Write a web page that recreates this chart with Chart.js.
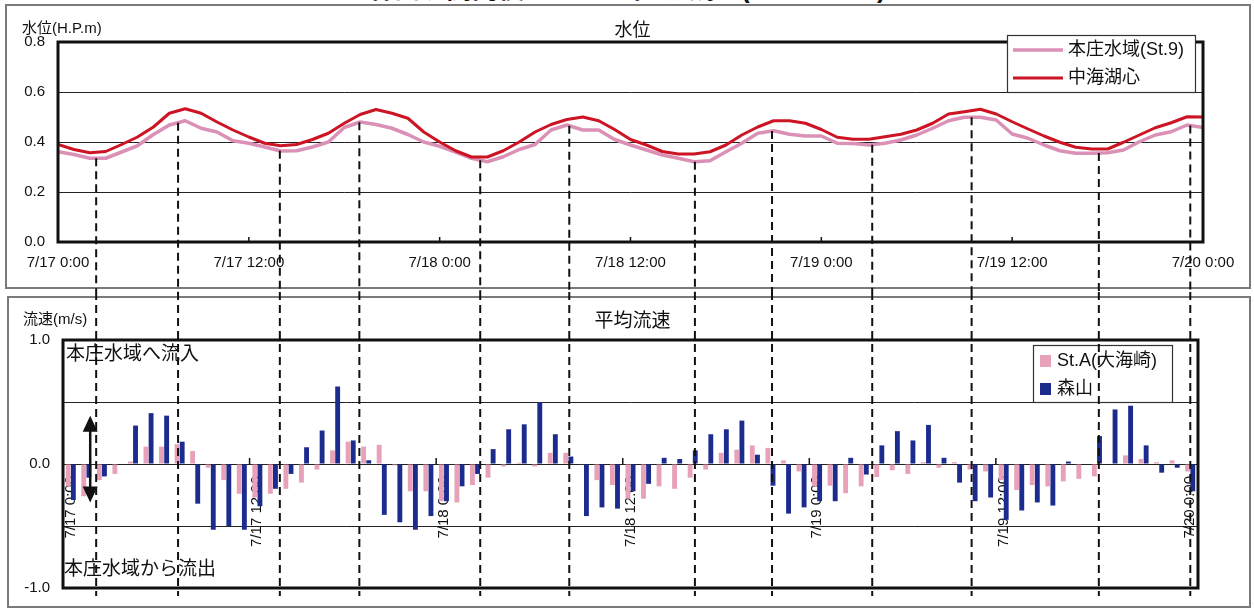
<!DOCTYPE html>
<html lang="ja">
<head>
<meta charset="utf-8">
<title>水位・平均流速</title>
<script src="https://cdn.jsdelivr.net/npm/chart.js@4.4.1/dist/chart.umd.min.js"></script>
<style>
  html, body { margin: 0; padding: 0; background: #fff; }
  body { width: 1254px; height: 610px; position: relative; overflow: hidden; }
  #doc-title { position: absolute; left: 0; top: -26px; width: 1254px; text-align: center;
    font: bold 26px/30px 'Liberation Sans', 'Noto Sans CJK JP', sans-serif; color: #111; white-space: nowrap; }
  .frame { position: absolute; border: 2px solid #7a7a7a; box-sizing: border-box; }
  .wrap { position: absolute; left: 0; width: 1254px; }
</style>
</head>
<body>
<div id="doc-title">森山堤開削後 ― 2010年7月調査(7/17～7/20)</div>
<div class="frame" style="left:5px;top:4px;width:1246px;height:285px;"></div>
<div class="frame" style="left:7px;top:296px;width:1244px;height:312px;"></div>
<div class="wrap" style="top:0;height:292px;"><canvas id="levelChart"></canvas></div>
<div class="wrap" style="top:292px;height:318px;"><canvas id="flowChart"></canvas></div>
<script>
// Time axis labels (every 12 hours)
const tickLabels = ['7/17 0:00', '7/17 12:00', '7/18 0:00', '7/18 12:00', '7/19 0:00', '7/19 12:00', '7/20 0:00'];

// Hourly water level (H.P. m), 7/17 0:00 – 7/20 0:00
const levelHonjo = [
  0.361, 0.350, 0.335, 0.335, 0.360, 0.385, 0.430, 0.468, 0.485, 0.455,
  0.440, 0.405, 0.395, 0.380, 0.364, 0.365, 0.380, 0.400, 0.458, 0.480,
  0.470, 0.455, 0.430, 0.400, 0.383, 0.360, 0.335, 0.321, 0.341, 0.370,
  0.390, 0.448, 0.468, 0.448, 0.448, 0.410, 0.388, 0.368, 0.348, 0.335,
  0.321, 0.325, 0.361, 0.395, 0.435, 0.445, 0.431, 0.424, 0.424, 0.395,
  0.394, 0.388, 0.395, 0.408, 0.428, 0.455, 0.485, 0.499, 0.499, 0.488,
  0.432, 0.415, 0.388, 0.365, 0.355, 0.355, 0.357, 0.368, 0.401, 0.428,
  0.441, 0.468, 0.458
];
const levelNakaumi = [
  0.390, 0.370, 0.357, 0.362, 0.390, 0.420, 0.460, 0.515, 0.533, 0.515,
  0.480, 0.448, 0.420, 0.395, 0.385, 0.390, 0.410, 0.435, 0.475, 0.510,
  0.530, 0.515, 0.495, 0.440, 0.400, 0.365, 0.340, 0.340, 0.365, 0.400,
  0.440, 0.470, 0.490, 0.500, 0.485, 0.450, 0.410, 0.388, 0.362, 0.352,
  0.352, 0.361, 0.388, 0.428, 0.460, 0.485, 0.485, 0.475, 0.450, 0.419,
  0.411, 0.411, 0.421, 0.431, 0.448, 0.475, 0.512, 0.521, 0.531, 0.512,
  0.481, 0.452, 0.424, 0.399, 0.379, 0.372, 0.372, 0.399, 0.428, 0.457,
  0.477, 0.501, 0.500
];

// Hourly mean flow velocity (m/s); positive = inflow to Honjo area
const flowStA = [
  -0.18, -0.26, -0.13, -0.08, 0.02, 0.14, 0.14, 0.16, 0.105, -0.03,
  -0.13, -0.24, -0.27, -0.24, -0.20, -0.15, -0.045, 0.11, 0.18, 0.14,
  0.155, -0.01, -0.22, -0.22, -0.30, -0.31, -0.17, -0.11, -0.02, 0.01,
  -0.02, 0.09, 0.09, -0.005, -0.13, -0.17, -0.28, -0.28, -0.18, -0.20,
  -0.11, -0.045, 0.09, 0.115, 0.15, 0.13, 0.03, -0.06, -0.18, -0.175,
  -0.235, -0.18, -0.105, -0.05, -0.08, 0.015, -0.03, 0.015, -0.045, -0.06,
  -0.13, -0.21, -0.17, -0.18, -0.14, -0.12, -0.10, 0.0, 0.07, 0.04,
  0.015, 0.03, -0.06
];
const flowMoriyama = [
  -0.29, -0.11, -0.10, 0.0, 0.31, 0.41, 0.39, 0.18, -0.32, -0.53,
  -0.50, -0.53, -0.34, -0.20, -0.08, 0.135, 0.27, 0.625, 0.19, 0.03,
  -0.41, -0.47, -0.53, -0.42, -0.30, -0.18, -0.08, 0.12, 0.28, 0.32,
  0.50, 0.24, 0.06, -0.42, -0.35, -0.36, -0.22, -0.16, 0.05, 0.04,
  0.11, 0.24, 0.28, 0.35, 0.075, -0.175, -0.40, -0.35, -0.30, -0.30,
  0.05, -0.085, 0.15, 0.265, 0.19, 0.315, 0.05, -0.15, -0.30, -0.27,
  -0.45, -0.375, -0.31, -0.335, 0.02, 0.0, 0.225, 0.44, 0.47, 0.15,
  -0.07, -0.03, -0.22
];

// Turning points of the tide (hours from 7/17 0:00), marked by dashed guides
const dashHours = [2.4, 7.55, 13.95, 18.95, 26.55, 32.15, 40.05, 44.9, 51.2, 57.45, 65.45, 71.2];

// Hourly category labels
const hourLabels = [];
for (const day of [17, 18, 19, 20]) {
  for (let h = 0; h < 24 && hourLabels.length < levelHonjo.length; h++) hourLabels.push(`7/${day} ${h}:00`);
}

const FONT = "'Liberation Sans', 'Noto Sans CJK JP', sans-serif";
const INK = '#111';
const PINK_LINE = '#DB90B6';
const RED_LINE = '#CC1424';
const PINK_BAR = '#E7A2BA';
const BLUE_BAR = '#1C2B8E';

function valueAt(arr, h) {
  const i = Math.floor(h), f = h - i;
  const a = arr[i], b = arr[Math.min(i + 1, arr.length - 1)];
  return a + (b - a) * f;
}

function dashedGuide(ctx, x, y0, y1) {
  ctx.save();
  ctx.strokeStyle = INK;
  ctx.lineWidth = 2;
  ctx.setLineDash([8, 5]);
  ctx.beginPath();
  ctx.moveTo(x, y0);
  ctx.lineTo(x, y1);
  ctx.stroke();
  ctx.restore();
}

function legendBox(ctx, x, y, w, h) {
  ctx.save();
  ctx.fillStyle = '#fff';
  ctx.fillRect(x, y, w, h);
  ctx.strokeStyle = '#333';
  ctx.lineWidth = 1.2;
  ctx.strokeRect(x + 0.5, y + 0.5, w, h);
  ctx.restore();
}

// Thick frame round the plotting area
const plotFrame = {
  id: 'plotFrame',
  afterDatasetsDraw(chart) {
    const { ctx, chartArea: a } = chart;
    ctx.save();
    ctx.strokeStyle = INK;
    ctx.lineWidth = 3;
    ctx.strokeRect(a.left, a.top, a.right - a.left, a.bottom - a.top);
    ctx.restore();
  }
};

// Titles, legend, tick marks and tide guides of the water-level panel
const levelDecor = {
  id: 'levelDecor',
  afterDraw(chart) {
    const { ctx, chartArea: a, scales: { x, y } } = chart;
    ctx.save();
    ctx.fillStyle = INK;
    ctx.textBaseline = 'middle';
    ctx.textAlign = 'center';
    ctx.font = `18px ${FONT}`;
    ctx.fillText('水位', (a.left + a.right) / 2 + 2, 31);
    ctx.textAlign = 'left';
    ctx.font = `15px ${FONT}`;
    ctx.fillText('水位(H.P.m)', 22, 29);

    // inner tick marks on the time axis
    ctx.strokeStyle = INK;
    ctx.lineWidth = 1.5;
    x.ticks.forEach(t => {
      const px = x.getPixelForValue(t.value);
      if (px <= a.left + 2 || px >= a.right - 2) return;
      ctx.beginPath();
      ctx.moveTo(px, a.bottom);
      ctx.lineTo(px, a.bottom - 5);
      ctx.stroke();
    });

    // legend
    const lx = 1007, ly = 35;
    legendBox(ctx, lx, ly, 188, 57);
    const order = [1, 0];
    order.forEach((di, row) => {
      const ds = chart.data.datasets[di];
      const cy = ly + 15 + row * 28;
      ctx.strokeStyle = ds.borderColor;
      ctx.lineWidth = ds.borderWidth;
      ctx.beginPath();
      ctx.moveTo(lx + 6, cy);
      ctx.lineTo(lx + 56, cy);
      ctx.stroke();
      ctx.fillStyle = INK;
      ctx.font = `18px ${FONT}`;
      ctx.textAlign = 'left';
      ctx.fillText(ds.label, lx + 61, cy);
    });
    ctx.restore();

    // tide guides, starting on the Honjo level curve
    dashHours.forEach(h => {
      const px = x.getPixelForValue(h);
      const py = y.getPixelForValue(valueAt(levelHonjo, h));
      dashedGuide(ctx, px, py, chart.height);
    });
  }
};

const levelChart = new Chart(document.getElementById('levelChart'), {
  type: 'line',
  data: {
    datasets: [
      { label: '中海湖心', data: levelNakaumi.map((v, i) => ({ x: i, y: v })), borderColor: RED_LINE, borderWidth: 3 },
      { label: '本庄水域(St.9)', data: levelHonjo.map((v, i) => ({ x: i, y: v })), borderColor: PINK_LINE, borderWidth: 3.5 }
    ]
  },
  options: {
    responsive: true,
    maintainAspectRatio: false,
    animation: false,
    layout: { padding: { left: 0, right: 51, top: 42, bottom: 20 } },
    elements: { point: { radius: 0 }, line: { tension: 0, borderJoinStyle: 'round' } },
    plugins: { legend: { display: false }, tooltip: { enabled: false }, title: { display: false } },
    scales: {
      x: {
        type: 'linear', min: 0, max: 72,
        border: { display: false },
        grid: { display: false, drawTicks: false },
        ticks: { stepSize: 12, padding: 12, maxRotation: 0, color: INK, font: { family: FONT, size: 15 },
          callback: v => tickLabels[v / 12] },
        afterFit: s => { s.height = 30; }
      },
      y: {
        min: 0, max: 0.8,
        border: { display: false },
        grid: { color: '#222', lineWidth: 1, drawTicks: false },
        ticks: { stepSize: 0.2, padding: 13, color: INK, font: { family: FONT, size: 15 },
          callback: v => v.toFixed(1) },
        afterFit: s => { s.width = 58; }
      }
    }
  },
  plugins: [plotFrame, levelDecor]
});

// Titles, notes, legend and tide guides of the velocity panel
const flowDecor = {
  id: 'flowDecor',
  afterDraw(chart) {
    const { ctx, chartArea: a, scales: { x, y } } = chart;
    ctx.save();
    ctx.fillStyle = INK;
    ctx.textBaseline = 'middle';
    ctx.textAlign = 'center';
    ctx.font = `19px ${FONT}`;
    ctx.fillText('平均流速', (a.left + a.right) / 2 + 2, 30);
    ctx.textAlign = 'left';
    ctx.font = `15px ${FONT}`;
    ctx.fillText('流速(m/s)', 23, 28);

    ctx.font = `19px ${FONT}`;
    ctx.fillText('本庄水域へ流入', a.left + 3, a.top + 15);
    ctx.fillText('本庄水域から流出', a.left + 1, a.bottom - 18);

    // inner tick marks between day/half-day blocks
    ctx.strokeStyle = INK;
    ctx.lineWidth = 1.5;
    const y0 = y.getPixelForValue(0);
    for (let i = 12; i < hourLabels.length - 1; i += 12) {
      const px = x.getPixelForValue(i - 0.5);
      ctx.beginPath();
      ctx.moveTo(px, y0);
      ctx.lineTo(px, y0 - 6);
      ctx.stroke();
    }

    // double-headed arrow showing the flow direction
    const ax = x.getPixelForValue(1.25);
    const top = y.getPixelForValue(0.39), bot = y.getPixelForValue(-0.31);
    ctx.lineWidth = 2.5;
    ctx.beginPath();
    ctx.moveTo(ax, top + 10);
    ctx.lineTo(ax, bot - 10);
    ctx.stroke();
    ctx.beginPath();
    ctx.moveTo(ax, top); ctx.lineTo(ax - 7.5, top + 16); ctx.lineTo(ax + 7.5, top + 16); ctx.closePath();
    ctx.moveTo(ax, bot); ctx.lineTo(ax - 7.5, bot - 16); ctx.lineTo(ax + 7.5, bot - 16); ctx.closePath();
    ctx.fill();

    // legend
    const lx = 1033, ly = 53;
    legendBox(ctx, lx, ly, 139, 57);
    chart.data.datasets.forEach((ds, row) => {
      const cy = ly + 16 + row * 28;
      ctx.fillStyle = ds.backgroundColor;
      ctx.fillRect(lx + 7, cy - 6, 11, 12);
      ctx.fillStyle = INK;
      ctx.font = `18px ${FONT}`;
      ctx.textAlign = 'left';
      ctx.fillText(ds.label, lx + 24, cy);
    });
    ctx.restore();

    // tide guides continued from the water-level panel
    const lx0 = levelChart.scales.x;
    dashHours.forEach(h => dashedGuide(ctx, lx0.getPixelForValue(h), 0, a.bottom + 8));
  }
};

new Chart(document.getElementById('flowChart'), {
  type: 'bar',
  data: {
    labels: hourLabels,
    datasets: [
      { label: 'St.A(大海崎)', data: flowStA, backgroundColor: PINK_BAR },
      { label: '森山', data: flowMoriyama, backgroundColor: BLUE_BAR }
    ]
  },
  options: {
    responsive: true,
    maintainAspectRatio: false,
    animation: false,
    layout: { padding: { left: 0, right: 56, top: 48, bottom: 21 } },
    datasets: { bar: { categoryPercentage: 0.66, barPercentage: 0.95 } },
    plugins: { legend: { display: false }, tooltip: { enabled: false }, title: { display: false } },
    scales: {
      x: {
        type: 'category',
        position: { y: 0 },
        border: { display: false },
        grid: { display: false, drawTicks: false },
        ticks: { autoSkip: false, minRotation: 90, maxRotation: 90, padding: 12, color: INK,
          font: { family: FONT, size: 15 },
          callback: (v, i) => (i % 12 === 0 ? tickLabels[i / 12] : '') }
      },
      y: {
        min: -1, max: 1,
        border: { display: false },
        grid: { color: '#222', lineWidth: 1, drawTicks: false },
        ticks: { stepSize: 0.5, padding: 13, color: INK, font: { family: FONT, size: 15 },
          callback: v => (Math.abs(v - Math.round(v)) < 1e-6 ? v.toFixed(1) : '') },
        afterFit: s => { s.width = 63; }
      }
    }
  },
  plugins: [plotFrame, flowDecor]
});
</script>
</body>
</html>
